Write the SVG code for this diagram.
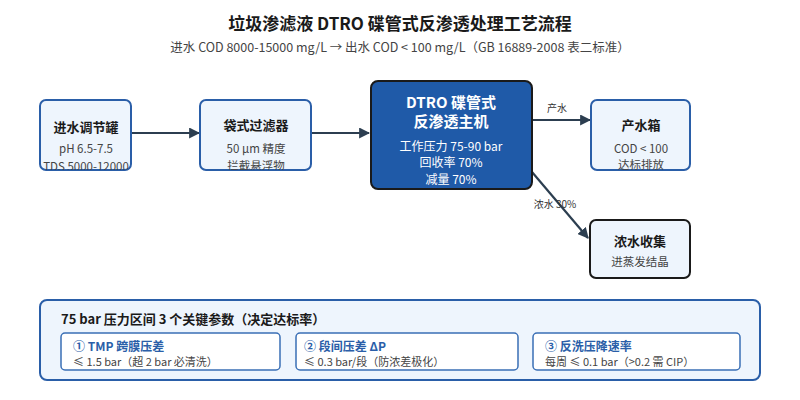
<svg xmlns="http://www.w3.org/2000/svg" width="800" height="400" viewBox="0 0 800 400">
<style>
text{font-family:"Noto Sans CJK SC","Noto Sans",sans-serif;text-anchor:middle}
.box{fill:#eef5fd;stroke:#2a5ea8;stroke-width:2}
.t{font-size:13px;font-weight:bold;fill:#1a1a1a}
.s{font-size:11.5px;fill:#444}
.w{fill:#fff}
.ln{stroke:#2c3e50;stroke-width:2.2;fill:none;marker-end:url(#a)}
.lb{font-size:10px;fill:#333}
.sub{fill:#fff;stroke:#3a6fb5;stroke-width:1.5}
.st{font-size:12px;font-weight:bold;fill:#2a5ea8;text-anchor:start}
.sd{font-size:11px;fill:#444;text-anchor:start}
</style>
<defs><marker id="a" viewBox="0 0 10 10" refX="9" refY="5" markerWidth="5" markerHeight="5" orient="auto"><path d="M0,0L10,5L0,10z" fill="#2c3e50"/></marker>
<clipPath id="c1"><rect x="40" y="100" width="91" height="70" rx="6"/></clipPath>
<clipPath id="c2"><rect x="200" y="100" width="111" height="70" rx="6"/></clipPath>
<clipPath id="c3"><rect x="591" y="100" width="99" height="70" rx="6"/></clipPath></defs>
<rect width="800" height="400" fill="#fff"/>
<text x="400" y="30" style="font-size:17px;font-weight:bold;fill:#1a1a1a">垃圾渗滤液 DTRO 碟管式反渗透处理工艺流程</text>
<text x="400" y="52" style="font-size:12.5px;fill:#444">进水 COD 8000-15000 mg/L → 出水 COD &lt; 100 mg/L（GB 16889-2008 表二标准）</text>
<g id="edges">
<line class="ln" x1="131" y1="133" x2="199" y2="133"/>
<line class="ln" x1="311" y1="133" x2="369" y2="133"/>
<line class="ln" x1="532" y1="120" x2="590" y2="120"/>
<line class="ln" x1="532" y1="172" x2="588" y2="238"/>
<text class="lb" x="557" y="112">产水</text>
<text class="lb" x="555" y="208">浓水 30%</text>
</g>
<g id="n1"><rect class="box" x="40" y="100" width="91" height="70" rx="6"/><g clip-path="url(#c1)"><text class="t" x="86" y="132">进水调节罐</text><text class="s" x="86" y="153">pH 6.5-7.5</text><text class="s" x="86" y="171">TDS 5000-12000</text></g></g>
<g id="n2"><rect class="box" x="200" y="100" width="111" height="70" rx="6"/><g clip-path="url(#c2)"><text class="t" x="256" y="130">袋式过滤器</text><text class="s" x="256" y="153">50 μm 精度</text><text class="s" x="256" y="170">拦截悬浮物</text></g></g>
<g id="n3"><rect x="371" y="81" width="161" height="108" rx="7" fill="#1f5aa8" stroke="#1a1a1a" stroke-width="2"/><text class="w" x="451" y="108" style="font-size:15px;font-weight:bold">DTRO 碟管式</text><text class="w" x="451" y="127" style="font-size:15px;font-weight:bold">反渗透主机</text><text class="w" x="451" y="151" style="font-size:12px">工作压力 75-90 bar</text><text class="w" x="451" y="167" style="font-size:12px">回收率 70%</text><text class="w" x="451" y="184" style="font-size:12px">减量 70%</text></g>
<g id="n4"><rect class="box" x="591" y="100" width="99" height="70" rx="6"/><g clip-path="url(#c3)"><text class="t" x="641" y="130">产水箱</text><text class="s" x="641" y="153">COD &lt; 100</text><text class="s" x="641" y="169">达标排放</text></g></g>
<g id="n5"><rect x="590" y="220" width="100" height="58" rx="6" fill="#eef5fd" stroke="#1a1a1a" stroke-width="2"/><text class="t" x="640" y="246">浓水收集</text><text class="s" x="640" y="266">进蒸发结晶</text></g>
<g id="panel"><rect x="40" y="300" width="720" height="80" rx="7" fill="#eef5fd" stroke="#2a5ea8" stroke-width="2"/>
<text x="61" y="324" style="font-size:13px;font-weight:bold;fill:#1a1a1a;text-anchor:start">75 bar 压力区间 3 个关键参数（决定达标率）</text>
<rect class="sub" x="61" y="333" width="219" height="37" rx="4"/><text class="st" x="73" y="351">① TMP 跨膜压差</text><text class="sd" x="73" y="366">≤ 1.5 bar（超 2 bar 必清洗）</text>
<rect class="sub" x="296" y="333" width="222" height="37" rx="4"/><text class="st" x="304" y="351">② 段间压差 ΔP</text><text class="sd" x="304" y="366">≤ 0.3 bar/段（防浓差极化）</text>
<rect class="sub" x="533" y="333" width="207" height="37" rx="4"/><text class="st" x="545" y="351">③ 反洗压降速率</text><text class="sd" x="545" y="366">每周 ≤ 0.1 bar（&gt;0.2 需 CIP）</text>
</g>
</svg>
